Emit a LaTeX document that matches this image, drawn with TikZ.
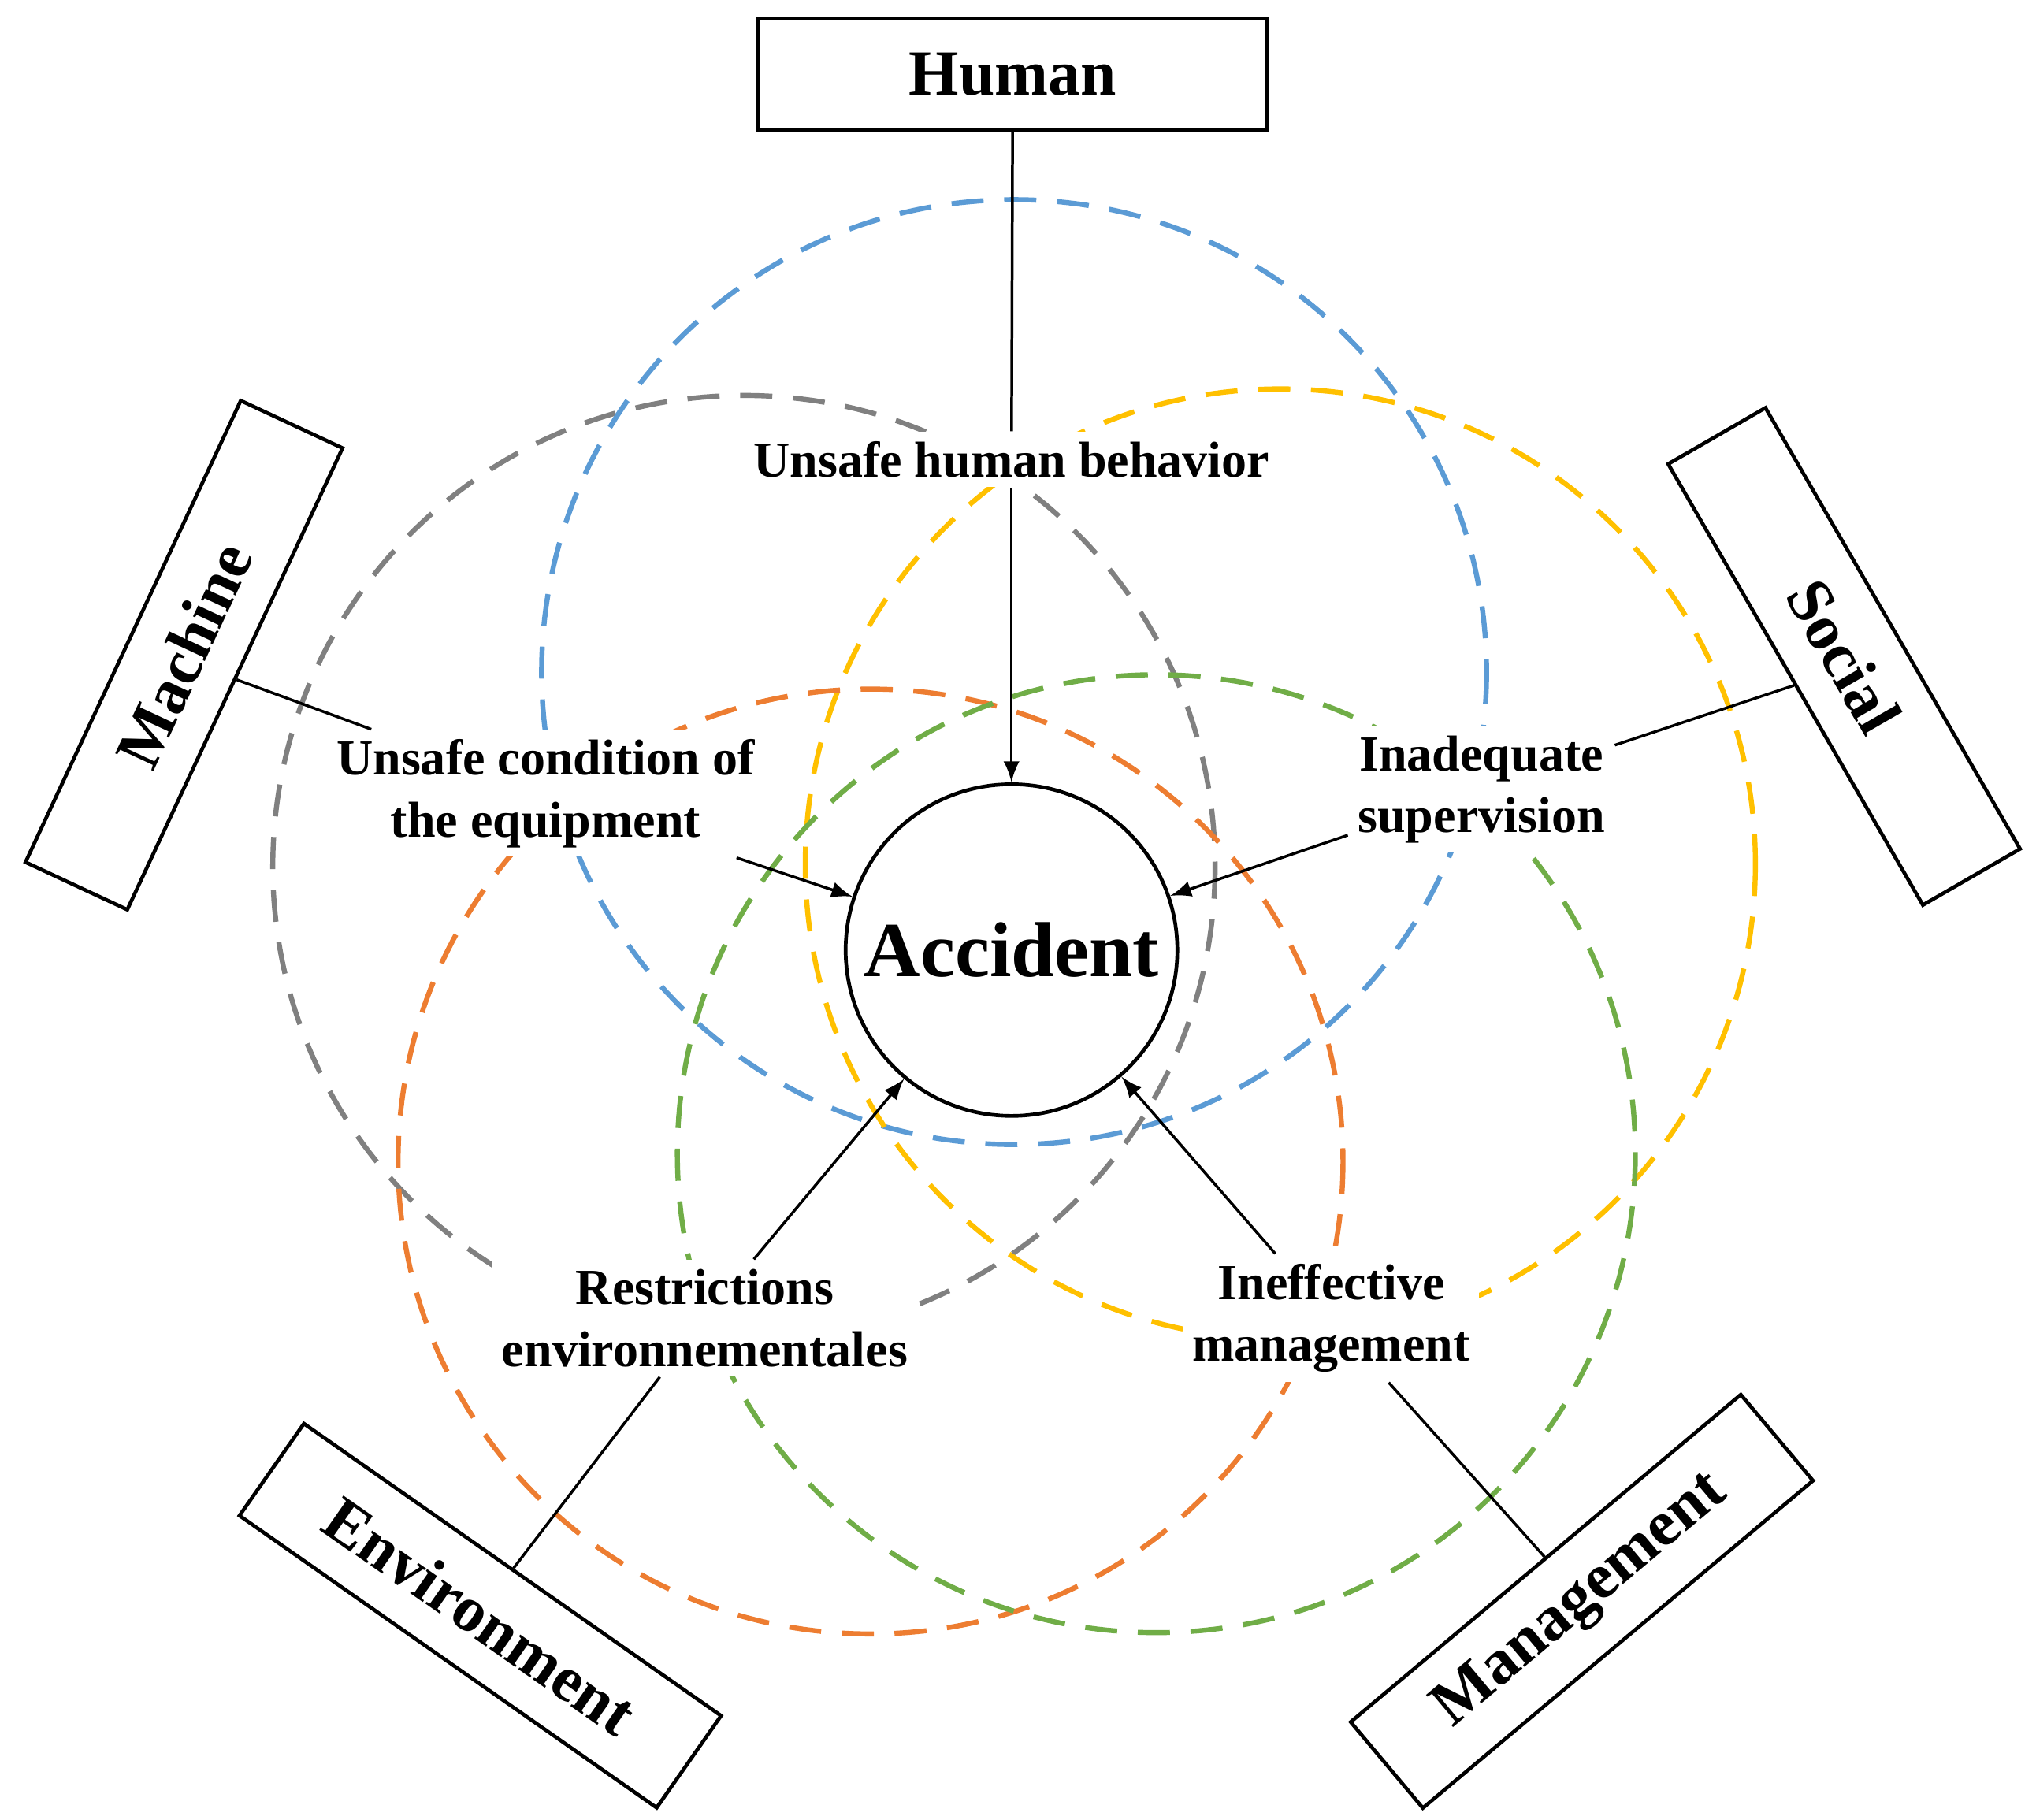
\documentclass[tikz,border=0pt]{standalone}
\usepackage{fontspec}
\setmainfont{Liberation Serif}
\usetikzlibrary{positioning}
\definecolor{cblue}{RGB}{91,155,213}
\definecolor{cgray}{RGB}{128,128,128}
\definecolor{cyellow}{RGB}{255,192,0}
\definecolor{corange}{RGB}{237,125,49}
\definecolor{cgreen}{RGB}{112,173,71}
\begin{document}
\begin{tikzpicture}
[x=0.01cm,y=-0.01cm,
 ring/.style={line width=1.1pt,dash pattern=on 7pt off 4.5pt},
 factor/.style={draw,thick,minimum width=3.9cm,minimum height=0.86cm,font=\fontsize{14}{16}\selectfont\bfseries},
 cause/.style={fill=white,inner sep=2pt,align=center,font=\fontsize{11}{13.5}\selectfont\bfseries},
 link/.style={semithick},
 hit/.style={semithick,-latex}]
\useasboundingbox (0,0) rectangle (1560,1394);
% dashed circles
\draw[ring,cgray] (570,664) circle (361);
\draw[ring,cblue] (777,515) circle (362);
\draw[ring,cyellow] (981,662) circle (364);
\draw[ring,corange] (667,890) circle (362);
\draw[ring,cgreen] (886,884) circle (367);
% center
\node[draw,circle,thick,fill=white,inner sep=0pt,minimum size=2.54cm,font=\fontsize{17}{19}\selectfont\bfseries] (acc) at (775,728) {Accident};
% factor boxes
\node[factor] (human) at (776,57) {Human};
\node[factor,rotate=65] (machine) at (141,502) {Machine};
\node[factor,rotate=-60] (social) at (1413,503) {Social};
\node[factor,rotate=-35] (env) at (368,1238) {Environment};
\node[factor,rotate=40] (mgmt) at (1212,1227) {Management};
% causes
\node[cause] (uhb) at (775,352) {Unsafe human behavior};
\node[cause] (uce) at (418,608) {Unsafe condition of\\the equipment};
\node[cause] (ins) at (1135,605) {Inadequate\\supervision};
\node[cause] (ren) at (540,1010) {Restrictions\\environnementales};
\node[cause] (ima) at (1020,1010) {Ineffective\\management};
% connectors
\draw[link] (human) -- (uhb);
\draw[hit] (uhb) -- (acc);
\draw[link] (machine.south) -- (uce);
\draw[hit] (uce) -- (acc);
\draw[link] (social.south) -- (ins);
\draw[hit] (ins) -- (acc);
\draw[link] (env.north) -- (ren);
\draw[hit] (ren) -- (acc);
\draw[link] (mgmt.north) -- (ima);
\draw[hit] (ima) -- (acc);
\end{tikzpicture}
\end{document}
